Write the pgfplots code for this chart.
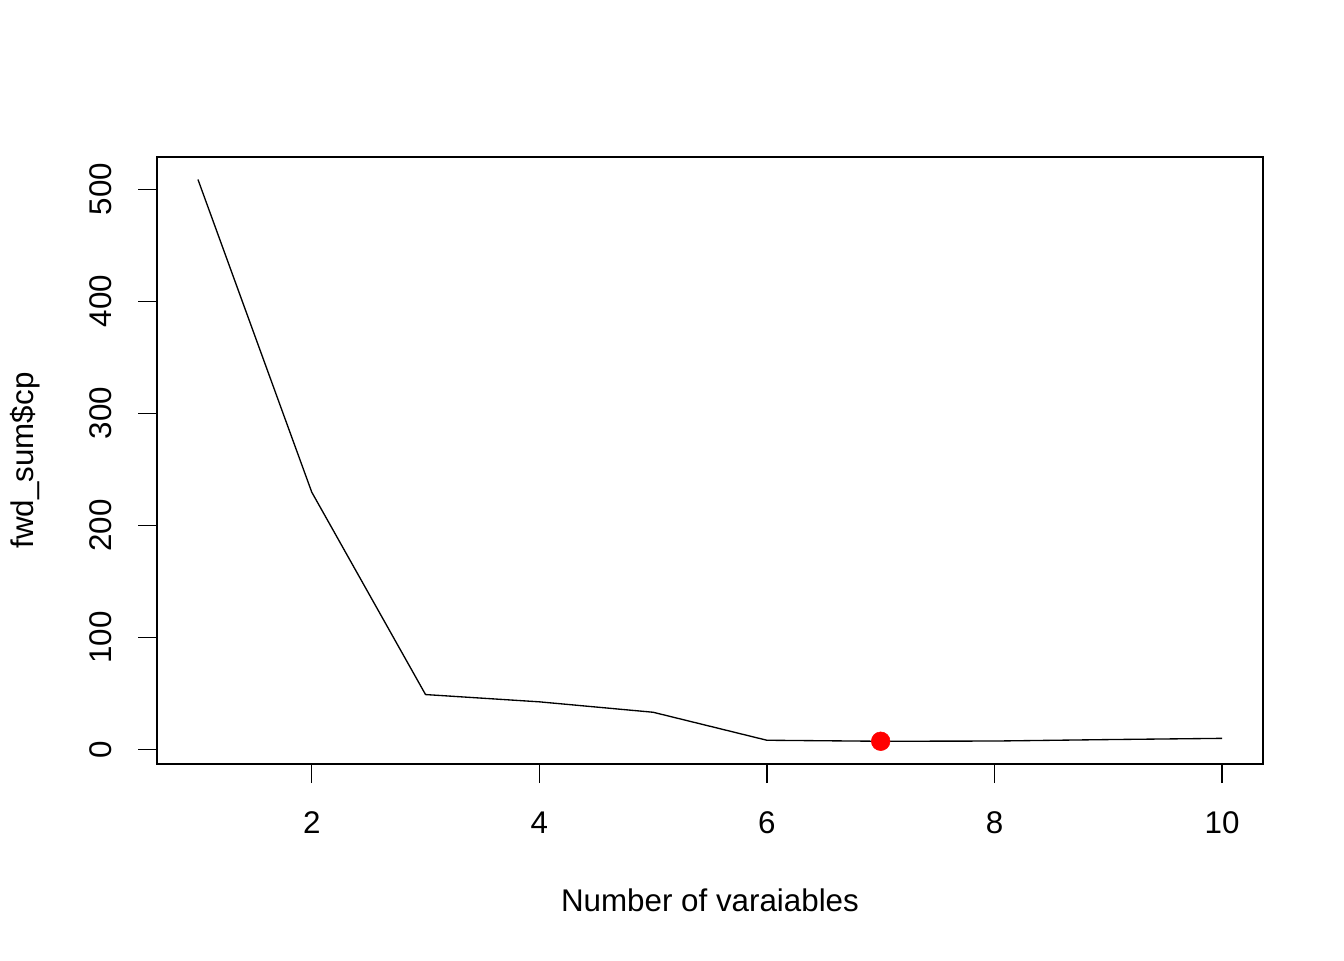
\documentclass[border=0pt]{standalone}
\usepackage{fontspec}
\setmainfont{Liberation Sans}
\usepackage{pgfplots}
\pgfplotsset{compat=1.18}
\begin{document}
\fontsize{23.5pt}{28pt}\selectfont
\begin{tikzpicture}
\useasboundingbox (0,0) rectangle (1008pt,720pt);
\begin{axis}[
  at={(117.75pt,147pt)}, anchor=south west,
  scale only axis,
  width=829.5pt, height=455.25pt,
  xmin=0.64, xmax=10.36,
  ymin=-13.1, ymax=528.8,
  xtick={2,4,6,8,10},
  ytick={0,100,200,300,400,500},
  tick pos=left,
  tick align=outside,
  major tick length=14.25pt,
  tick style={line width=1pt, black},
  axis line style={line width=1.1pt},
  /pgf/number format/assume math mode=true,
  tick label style={font=\fontsize{23.5pt}{28pt}\selectfont},
  label style={font=\fontsize{23.5pt}{28pt}\selectfont},
  xticklabel style={anchor=center, yshift=-30pt},
  yticklabel style={anchor=center, xshift=-27.75pt, rotate=90},
  xlabel={Number of varaiables},
  ylabel={fwd\_sum\$cp},
  xlabel style={at={(axis description cs:0.5,-0.224)}, anchor=center},
  ylabel style={at={(axis description cs:-0.1194,0.5)}, anchor=center},
  clip=false,
]
\addplot[black, line width=1pt, mark=none] coordinates {
  (1,508.7) (2,229.6) (3,48.9) (4,42.4) (5,33.1) (6,8.1) (7,7.2) (8,7.4) (9,8.7) (10,9.8)
};
\addplot[only marks, mark=*, mark size=7pt, color=red, fill=red] coordinates {(7,7.2)};
\end{axis}
\end{tikzpicture}
\end{document}
